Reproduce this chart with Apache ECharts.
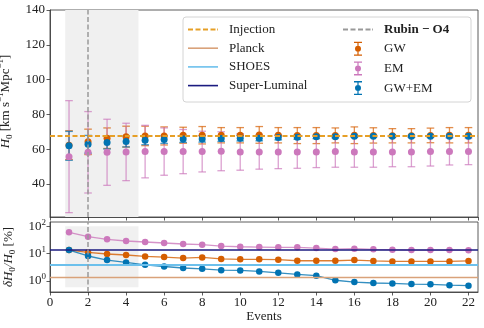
<!DOCTYPE html>
<html><head><meta charset="utf-8">
<script src="https://cdn.jsdelivr.net/npm/echarts@6/dist/echarts.min.js"></script>
<style>html,body{margin:0;padding:0;background:#fff}#c{width:484px;height:328px}</style>
</head><body><div id="c"></div>
<script>
// ---- data ----
const events = [1,2,3,4,5,6,7,8,9,10,11,12,13,14,15,16,17,18,19,20,21,22];
const gwMean = [62.3,64.2,66.3,67.2,67.6,67.6,68.0,68.0,68.0,68.0,68.2,68.0,67.8,67.8,67.9,68.0,67.9,67.7,67.7,67.9,68.0,68.0];
const gwErr  = [8.3,7.3,5.9,6.0,5.6,5.2,4.6,5.0,4.4,4.4,4.8,4.4,4.6,4.6,4.3,4.8,4.4,4.1,4.1,4.2,4.4,4.4];
const emMean = [55.7,58.2,58.2,58.4,58.6,58.6,58.6,58.6,58.8,58.4,58.4,58.4,58.4,58.4,58.6,58.4,58.4,58.4,58.4,58.6,58.6,58.6];
const emErr  = [32.2,23.4,19.0,16.5,15.1,13.6,12.7,11.7,11.2,10.5,9.9,9.6,9.4,9.0,9.0,8.8,8.8,8.5,8.5,8.3,7.7,7.5];
const comMean = [61.9,62.8,63.8,64.4,65.1,65.5,65.9,65.9,66.1,66.3,66.3,66.7,66.9,67.1,67.2,67.4,67.4,67.4,67.4,67.4,67.4,67.4];
const comErr  = [8.3,5.1,3.7,3.1,2.5,2.2,2.0,1.85,1.65,1.6,1.5,1.35,1.2,1.05,0.72,0.62,0.57,0.55,0.52,0.51,0.48,0.46];
const gwRel  = [13.5,11.1,9.7,8.9,7.9,7.5,6.9,7.3,6.4,6.2,6.2,6.0,5.5,5.5,5.5,5.8,5.4,5.2,5.2,5.2,5.2,5.4];
const emRel  = [59.9,41.4,33.2,28.8,26.5,24.4,22.4,21.2,18.9,17.8,17.4,17.0,17.0,16.0,14.7,15.1,14.4,13.9,13.5,13.5,13.5,13.2];
const comRel = [13.5,8.2,5.8,4.8,3.9,3.4,3.0,2.8,2.5,2.45,2.25,2.0,1.75,1.57,1.07,0.92,0.85,0.82,0.78,0.76,0.71,0.68];
const injection = 67.7;
const planck = 1.36;
const shoes = 3.9;
const superLuminal = 13.3;
const rubinEvent = 2;
const shadeRange = [0.8, 4.65];
const shadeRelRange = [0.6, 100];
const xTicks = [0,2,4,6,8,10,12,14,16,18,20,22];
const yTicksTop = [40,60,80,100,120,140];

// ---- style ----
const FONT = 'Liberation Serif';
const C_GW = '#d55e00', C_EM = '#cc78bc', C_COM = '#0173b2';
const C_INJ = '#e69f26', C_PLANCK = '#d9a27a', C_SHOES = '#6cc0ec', C_SL = '#1b1b80', C_RUBIN = '#999999';
const AX = '#333';

function errRender(color) {
  return function (params, api) {
    const x = api.value(0), lo = api.value(1), hi = api.value(2);
    const a = api.coord([x, lo]), b = api.coord([x, hi]);
    const hw = 3.8;
    const st = {stroke: color, lineWidth: 1.3, opacity: 0.7};
    return {type: 'group', children: [
      {type: 'line', shape: {x1: a[0], y1: a[1], x2: b[0], y2: b[1]}, style: st},
      {type: 'line', shape: {x1: a[0]-hw, y1: a[1], x2: a[0]+hw, y2: a[1]}, style: st},
      {type: 'line', shape: {x1: b[0]-hw, y1: b[1], x2: b[0]+hw, y2: b[1]}, style: st}
    ]};
  };
}
const errData = (m, e) => events.map((ev, i) => [ev, m[i]-e[i], m[i]+e[i]]);
const ptData = (m) => events.map((ev, i) => [ev, m[i]]);

const ERR_ICON = 'path://M0,0H8V1.3H0Z M0,12.7H8V14H0Z M3.4,0H4.6V14H3.4Z M1,7A3,3 0 1,1 7,7A3,3 0 1,1 1,7Z';
const SOLID_ICON = 'path://M0,0H30V1.6H0Z';
const DASH_ICON = 'path://M0,0H5V1.8H0Z M7.5,0H12.5V1.8H7.5Z M15,0H20V1.8H15Z M22.5,0H27.5V1.8H22.5Z M29.2,0H30V1.8H29.2Z';

const rich = {
  n: {fontFamily: FONT, fontSize: 13, color: '#222'},
  i: {fontFamily: FONT, fontSize: 13, fontStyle: 'italic', color: '#222'},
  sub: {fontFamily: FONT, fontSize: 9, color: '#222', verticalAlign: 'bottom', lineHeight: 9, padding: [0,0,-3,0]},
  sup: {fontFamily: FONT, fontSize: 9, color: '#222', verticalAlign: 'top', lineHeight: 9, padding: [-2,0,0,0]}
};

const axisCommon = {
  axisLine: {show: true, onZero: false, lineStyle: {color: AX, width: 0.8}},
  axisTick: {show: true, inside: false, length: 3.5, lineStyle: {color: AX, width: 0.8}},
  splitLine: {show: false}
};

const option = {
  animation: false,
  backgroundColor: '#fff',
  textStyle: {fontFamily: FONT},
  grid: [
    {left: 50, right: 6, top: 10, height: 207, containLabel: false, outerBoundsMode: 'none',
      show: true, borderColor: AX, borderWidth: 0.8, backgroundColor: 'transparent'},
    {left: 50, right: 6, top: 222, height: 70, containLabel: false, outerBoundsMode: 'none',
      show: true, borderColor: AX, borderWidth: 0.8, backgroundColor: 'transparent'}
  ],
  xAxis: [
    Object.assign({type: 'value', gridIndex: 0, min: xTicks[0], max: 22.5, interval: 2,
      axisLabel: {show: false}}, axisCommon),
    Object.assign({type: 'value', gridIndex: 1, min: xTicks[0], max: 22.5, interval: 2,
      axisLabel: {fontFamily: FONT, fontSize: 13, color: '#222', margin: 4, showMaxLabel: false,
        formatter: v => xTicks.includes(v) ? String(v) : ''},
      name: 'Events', nameLocation: 'middle', nameGap: 17,
      nameTextStyle: {fontFamily: FONT, fontSize: 13, color: '#222'}}, axisCommon)
  ],
  yAxis: [
    Object.assign({type: 'value', gridIndex: 0, min: 21, max: 140, splitNumber: 6,
      axisLabel: {fontFamily: FONT, fontSize: 13, color: '#222', margin: 5, showMinLabel: false,
        formatter: v => yTicksTop.includes(v) ? String(v) : ''},
      name: '{i|H}{sub|0}{n| [km s}{sup|−1}{n|Mpc}{sup|−1}{n|]}', nameLocation: 'middle', nameGap: 28, nameRotate: 90,
      nameTextStyle: {rich: rich, padding: [0,0,0,24]}}, axisCommon),
    Object.assign({type: 'log', logBase: 10, gridIndex: 1, min: 0.4, max: 142,
      axisLabel: {fontFamily: FONT, fontSize: 13, color: '#222', margin: 4, showMinLabel: false, showMaxLabel: false,
        formatter: v => '{n|10}{sup|' + Math.round(Math.log10(v)) + '}', rich: rich},
      name: '{i|δH}{sub|0}{i|/H}{sub|0}{n| [%]}', nameLocation: 'middle', nameGap: 28, nameRotate: 90,
      nameTextStyle: {rich: rich}}, axisCommon)
  ],
  graphic: [{
    type: 'rect', z: 9, shape: {x: 183, y: 17, width: 288, height: 85, r: 3},
    style: {fill: 'rgba(255,255,255,0.85)', stroke: '#d4d4d4', lineWidth: 1}
  }],
  legend: [
    {z: 10, left: 188, top: 23, orient: 'vertical', padding: 0, itemWidth: 30, itemHeight: 14, itemGap: 5.7,
      textStyle: {fontFamily: FONT, fontSize: 13, color: '#222', padding: [0,0,0,6]},
      data: [{name: 'Injection', icon: DASH_ICON}, {name: 'Planck', icon: SOLID_ICON},
             {name: 'SHOES', icon: SOLID_ICON}, {name: 'Super-Luminal', icon: SOLID_ICON}]},
    {z: 10, left: 343, top: 23, orient: 'vertical', padding: 0, itemWidth: 30, itemHeight: 14, itemGap: 5.7,
      textStyle: {fontFamily: FONT, fontSize: 13, color: '#222', padding: [0,0,0,6]},
      data: [{name: 'Rubin − O4', icon: DASH_ICON, textStyle: {fontWeight: 'bold'}},
             {name: 'GW', icon: ERR_ICON}, {name: 'EM', icon: ERR_ICON}, {name: 'GW+EM', icon: ERR_ICON}]}
  ],
  series: [
    // shading
    {type: 'line', name: 'shade0', xAxisIndex: 0, yAxisIndex: 0, data: [], z: 1,
      markArea: {silent: true, itemStyle: {color: '#f0f0f0'},
        data: [[{xAxis: shadeRange[0]}, {xAxis: shadeRange[1]}]]}},
    {type: 'line', name: 'shade1', xAxisIndex: 1, yAxisIndex: 1, data: [], z: 1,
      markArea: {silent: true, itemStyle: {color: '#f0f0f0'},
        data: [[{xAxis: shadeRange[0], yAxis: shadeRelRange[0]}, {xAxis: shadeRange[1], yAxis: shadeRelRange[1]}]]}},
    // top panel error bars
    {type: 'custom', name: 'GW', xAxisIndex: 0, yAxisIndex: 0, z: 2, renderItem: errRender(C_GW),
      itemStyle: {color: C_GW}, encode: {x: 0, y: [1, 2]}, data: errData(gwMean, gwErr)},
    {type: 'custom', name: 'EM', xAxisIndex: 0, yAxisIndex: 0, z: 2, renderItem: errRender(C_EM),
      itemStyle: {color: C_EM}, encode: {x: 0, y: [1, 2]}, data: errData(emMean, emErr)},
    {type: 'custom', name: 'GW+EM', xAxisIndex: 0, yAxisIndex: 0, z: 2, renderItem: errRender(C_COM),
      itemStyle: {color: C_COM}, encode: {x: 0, y: [1, 2]}, data: errData(comMean, comErr)},
    // top panel points
    {type: 'scatter', name: 'GW', xAxisIndex: 0, yAxisIndex: 0, z: 3, symbolSize: 7,
      itemStyle: {color: C_GW, opacity: 1}, data: ptData(gwMean)},
    {type: 'scatter', name: 'EM', xAxisIndex: 0, yAxisIndex: 0, z: 3, symbolSize: 7,
      itemStyle: {color: C_EM, opacity: 1}, data: ptData(emMean)},
    {type: 'scatter', name: 'GW+EM', xAxisIndex: 0, yAxisIndex: 0, z: 3, symbolSize: 7,
      itemStyle: {color: C_COM, opacity: 1}, data: ptData(comMean)},
    // injection line
    {type: 'line', name: 'Injection', xAxisIndex: 0, yAxisIndex: 0, z: 4, data: [], symbol: 'none',
      itemStyle: {color: C_INJ}, lineStyle: {color: C_INJ, width: 2, type: [5, 2.5]},
      markLine: {silent: true, symbol: ['none', 'none'], label: {show: false},
        lineStyle: {color: C_INJ, width: 2, type: [5, 2.5]}, data: [{yAxis: injection}]}},
    // bottom horizontal lines
    {type: 'line', name: 'Planck', xAxisIndex: 1, yAxisIndex: 1, z: 2, data: [], symbol: 'none',
      itemStyle: {color: C_PLANCK}, lineStyle: {color: C_PLANCK, width: 1.5, type: 'solid'},
      markLine: {silent: true, symbol: ['none', 'none'], label: {show: false},
        lineStyle: {color: C_PLANCK, width: 1.3, type: 'solid'}, data: [{yAxis: planck}]}},
    {type: 'line', name: 'SHOES', xAxisIndex: 1, yAxisIndex: 1, z: 2, data: [], symbol: 'none',
      itemStyle: {color: C_SHOES}, lineStyle: {color: C_SHOES, width: 1.5, type: 'solid'},
      markLine: {silent: true, symbol: ['none', 'none'], label: {show: false},
        lineStyle: {color: C_SHOES, width: 1.8, type: 'solid'}, data: [{yAxis: shoes}]}},
    {type: 'line', name: 'Super-Luminal', xAxisIndex: 1, yAxisIndex: 1, z: 2, data: [], symbol: 'none',
      itemStyle: {color: C_SL}, lineStyle: {color: C_SL, width: 1.5, type: 'solid'},
      markLine: {silent: true, symbol: ['none', 'none'], label: {show: false},
        lineStyle: {color: C_SL, width: 1.5, type: 'solid'}, data: [{yAxis: superLuminal}]}},
    // bottom panel curves
    {type: 'line', name: 'GW', xAxisIndex: 1, yAxisIndex: 1, z: 3, symbol: 'circle', symbolSize: 6.5,
      itemStyle: {color: C_GW}, lineStyle: {color: C_GW, width: 1.3, opacity: 0.8}, data: ptData(gwRel)},
    {type: 'line', name: 'EM', xAxisIndex: 1, yAxisIndex: 1, z: 3, symbol: 'circle', symbolSize: 6.5,
      itemStyle: {color: C_EM}, lineStyle: {color: C_EM, width: 1.3, opacity: 0.8}, data: ptData(emRel)},
    {type: 'line', name: 'GW+EM', xAxisIndex: 1, yAxisIndex: 1, z: 3, symbol: 'circle', symbolSize: 6.5,
      itemStyle: {color: C_COM}, lineStyle: {color: C_COM, width: 1.3, opacity: 0.8}, data: ptData(comRel)},
    // Rubin vertical lines
    {type: 'line', name: 'Rubin − O4', xAxisIndex: 0, yAxisIndex: 0, z: 5, data: [], symbol: 'none',
      itemStyle: {color: C_RUBIN}, lineStyle: {color: C_RUBIN, width: 1.5, type: [5, 2.5]},
      markLine: {silent: true, symbol: ['none', 'none'], label: {show: false},
        lineStyle: {color: C_RUBIN, width: 1.5, type: [5, 2.5]}, data: [{xAxis: rubinEvent}]}},
    {type: 'line', name: 'Rubin − O4', xAxisIndex: 1, yAxisIndex: 1, z: 5, data: [], symbol: 'none',
      itemStyle: {color: C_RUBIN}, lineStyle: {color: C_RUBIN, width: 1.5, type: [5, 2.5]},
      markLine: {silent: true, symbol: ['none', 'none'], label: {show: false},
        lineStyle: {color: C_RUBIN, width: 1.5, type: [5, 2.5]}, data: [{xAxis: rubinEvent}]}}
  ]
};
const chart = echarts.init(document.getElementById('c'));
chart.setOption(option);
</script>
</body></html>
